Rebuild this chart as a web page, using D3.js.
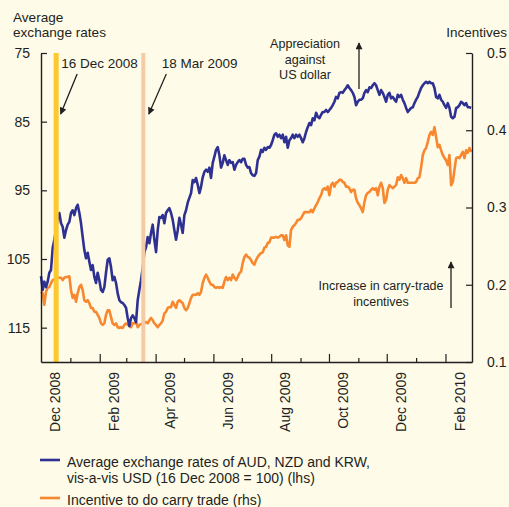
<!DOCTYPE html>
<html>
<head>
<meta charset="utf-8">
<script src="https://cdn.jsdelivr.net/npm/d3@7"></script>
<style>
	body{margin:0;background:#fefbe9;}
	svg{display:block;font-family:"Liberation Sans",Arial,Helvetica,sans-serif;fill:#231f20;}
</style>
</head>
<body>
<svg id="chart" width="509" height="507"></svg>
<script>
'use strict';

//Observation calendar: first reading and spacing (days) of the readings
var firstObs = '2008-12-01';
var obsStepDays = 1.76;

//Average exchange rates of AUD, NZD and KRW vs USD (16 Dec 2008 = 100), lhs
var fxIndex = [
	107.5,109.5,108.3,109.1,108.3,107.0,106.6,103.4,102.2,100.8,
	99.0,98.3,99.8,100.3,101.9,100.8,100.0,99.6,98.3,97.9,
	98.6,97.6,97.1,98.3,99.8,101.8,103.7,104.9,104.1,105.4,
	106.6,105.9,107.6,108.5,107.0,108.1,109.5,109.8,109.1,107.0,
	105.1,104.9,106.2,108.1,107.6,108.5,110.0,111.0,111.3,111.4,
	111.7,112.1,113.6,114.8,113.6,113.2,113.6,114.2,111.0,109.5,
	108.1,106.3,104.0,103.3,101.8,102.7,101.2,100.0,102.2,104.0,
	100.8,98.9,99.0,98.6,99.8,98.3,97.9,97.6,98.3,99.3,
	100.8,102.2,100.8,99.0,100.0,101.2,98.6,97.9,96.8,96.1,
	95.4,93.5,93.8,93.2,94.2,95.4,94.5,93.1,92.3,92.0,
	92.3,91.7,93.2,91.0,90.1,89.1,88.7,89.9,91.7,91.0,
	89.9,90.6,91.3,90.6,91.0,90.9,92.0,91.3,90.9,90.6,
	90.9,90.4,90.4,91.3,91.7,91.6,92.5,92.8,92.9,92.5,
	90.6,90.1,89.1,89.4,88.8,89.1,88.7,88.8,88.4,87.7,
	86.9,86.7,87.2,86.9,87.4,86.9,88.0,87.2,88.8,87.7,
	87.4,86.9,87.4,86.9,87.2,86.9,87.4,88.0,87.4,86.5,
	85.8,85.2,85.5,84.5,84.8,83.7,84.3,84.5,84.0,83.6,
	83.6,83.3,83.6,83.3,83.0,82.6,82.1,81.4,81.6,80.8,
	80.7,80.8,80.4,80.1,79.7,80.1,80.4,80.8,81.4,82.6,
	82.1,81.8,81.8,81.6,80.8,80.4,80.7,80.0,80.1,79.7,
	79.4,79.7,80.4,81.1,80.4,80.8,81.4,82.1,81.1,80.8,
	81.6,81.4,81.8,82.1,81.1,81.4,81.1,81.8,82.3,83.0,
	83.6,83.3,83.0,82.9,82.3,81.8,81.4,80.7,80.1,79.7,
	79.4,79.2,79.4,79.2,79.4,79.4,80.1,81.4,81.6,81.1,
	81.8,82.1,82.6,83.0,82.3,83.0,84.3,84.5,84.3,83.0,
	82.9,82.6,82.1,82.3,82.6,82.3,82.9,82.9,83.0
];

//Incentive to do carry trade, rhs
var carryIncentive = [
	0.191,0.189,0.174,0.191,0.196,0.197,0.202,0.206,0.207,0.209,
	0.209,0.209,0.209,0.206,0.209,0.210,0.210,0.211,0.193,0.183,
	0.187,0.178,0.189,0.197,0.200,0.193,0.180,0.178,0.180,0.176,
	0.170,0.170,0.165,0.165,0.161,0.157,0.150,0.148,0.150,0.161,
	0.167,0.167,0.158,0.150,0.148,0.150,0.145,0.144,0.145,0.144,
	0.148,0.150,0.148,0.150,0.145,0.150,0.150,0.152,0.145,0.148,
	0.149,0.150,0.150,0.152,0.150,0.154,0.157,0.154,0.150,0.148,
	0.145,0.148,0.150,0.154,0.163,0.165,0.170,0.171,0.171,0.178,
	0.174,0.170,0.178,0.180,0.178,0.176,0.170,0.167,0.170,0.176,
	0.183,0.187,0.187,0.187,0.189,0.187,0.191,0.202,0.209,0.213,
	0.209,0.204,0.200,0.200,0.197,0.196,0.197,0.196,0.197,0.196,
	0.204,0.210,0.206,0.209,0.206,0.213,0.209,0.206,0.210,0.215,
	0.217,0.228,0.236,0.239,0.236,0.235,0.232,0.228,0.226,0.232,
	0.236,0.239,0.241,0.242,0.248,0.249,0.254,0.255,0.261,0.261,
	0.261,0.262,0.261,0.262,0.264,0.264,0.258,0.264,0.251,0.249,
	0.271,0.275,0.277,0.280,0.284,0.284,0.286,0.290,0.294,0.294,
	0.294,0.294,0.297,0.294,0.299,0.303,0.307,0.312,0.316,0.323,
	0.325,0.323,0.327,0.316,0.329,0.332,0.327,0.332,0.333,0.336,
	0.336,0.333,0.332,0.327,0.327,0.325,0.320,0.323,0.323,0.312,
	0.306,0.303,0.299,0.294,0.307,0.316,0.319,0.320,0.323,0.325,
	0.323,0.325,0.316,0.327,0.332,0.325,0.306,0.310,0.323,0.329,
	0.327,0.325,0.327,0.329,0.339,0.336,0.342,0.338,0.332,0.338,
	0.332,0.332,0.332,0.332,0.332,0.333,0.338,0.339,0.352,0.368,
	0.374,0.377,0.385,0.394,0.398,0.394,0.404,0.391,0.378,0.381,
	0.374,0.368,0.364,0.361,0.355,0.368,0.329,0.333,0.349,0.364,
	0.365,0.364,0.368,0.372,0.364,0.374,0.371,0.377,0.372
];

var leftTicks = [75,85,95,105,115];
var rightTicks = [0.1,0.2,0.3,0.4,0.5];
var labelMonths = ['2008-12','2009-02','2009-04','2009-06','2009-08','2009-10','2009-12','2010-02'];
var monthLabels = ['Dec 2008','Feb 2009','Apr 2009','Jun 2009','Aug 2009','Oct 2009','Dec 2009','Feb 2010'];
var eventDates = ['2008-12-16','2009-03-18'];
var eventLabels = ['16 Dec 2008','18 Mar 2009'];
var legendLabels = [
	['Average exchange rates of AUD, NZD and KRW,','vis-a-vis USD (16 Dec 2008 = 100) (lhs)'],
	['Incentive to do carry trade (rhs)']
];

var blue = '#2e3192';
var orange = '#f7882f';
var ink = '#231f20';

var svg = d3.select('#chart');
var parseDay = d3.timeParse('%Y-%m-%d');
var parseMonth = d3.timeParse('%Y-%m');

//Scales
var x = d3.scaleTime()
	.domain([new Date(2008,11,1), new Date(2010,2,1)])
	.range([41,472]);
var yL = d3.scaleLinear().domain([75,120]).range([53,362]);
var yR = d3.scaleLinear().domain([0.1,0.5]).range([362,53]);

var start = parseDay(firstObs);
var obsDates = fxIndex.map(function(d,i){
	return d3.timeHour.offset(start, Math.round(i*obsStepDays*24));
});

//Arrow head
svg.append('defs').append('marker')
	.attr('id','head')
	.attr('viewBox','0 0 10 10')
	.attr('refX',9).attr('refY',5)
	.attr('markerUnits','userSpaceOnUse')
	.attr('markerWidth',9).attr('markerHeight',7)
	.attr('orient','auto')
	.append('path')
		.attr('d','M0,0L10,5L0,10z')
		.attr('fill',ink);

//Series lines
var fxLine = d3.line()
	.x(function(d,i){ return x(obsDates[i]); })
	.y(function(d){ return yL(d); });
var carryLine = d3.line()
	.x(function(d,i){ return x(obsDates[i]); })
	.y(function(d){ return yR(d); });

svg.append('path')
	.datum(carryIncentive)
	.attr('d',carryLine)
	.attr('fill','none')
	.attr('stroke',orange)
	.attr('stroke-width',2.6)
	.attr('stroke-linejoin','round');

svg.append('path')
	.datum(fxIndex)
	.attr('d',fxLine)
	.attr('fill','none')
	.attr('stroke',blue)
	.attr('stroke-width',2.6)
	.attr('stroke-linejoin','round');

//Event bars and their labels (label/arrow offsets differ per bar)
var barCol = ['#fdc72e','#f5cba7'];
var barW = [5,4];
var labelDx = [5,18.5];
var arrowDx = [[21,4.5],[23,5.5]];
eventDates.forEach(function(d,i){
	var xc = x(d3.timeDay.offset(parseDay(d),1));
	svg.append('rect')
		.attr('x',xc - barW[i]/2)
		.attr('y',yL.range()[0])
		.attr('width',barW[i])
		.attr('height',yL.range()[1]-yL.range()[0])
		.attr('fill',barCol[i]);
	svg.append('text')
		.attr('x',xc + labelDx[i])
		.attr('y',68)
		.attr('font-size','13.5px')
		.text(eventLabels[i]);
	svg.append('line')
		.attr('x1',xc + arrowDx[i][0]).attr('y1',74)
		.attr('x2',xc + arrowDx[i][1]).attr('y2',114)
		.attr('stroke',ink)
		.attr('stroke-width',1.3)
		.attr('marker-end','url(#head)');
});

//Left axis
var leftAxis = svg.append('g')
	.attr('transform','translate(41,0)')
	.call(d3.axisLeft(yL).tickValues(leftTicks).tickSizeInner(-6).tickSizeOuter(0).tickPadding(11));

//Right axis
var rightAxis = svg.append('g')
	.attr('transform','translate(472,0)')
	.call(d3.axisRight(yR).tickValues(rightTicks).tickFormat(d3.format('.1f')).tickSizeInner(-6).tickSizeOuter(0).tickPadding(15));

//Bottom axis: month ticks, longer on even months
var monthStarts = d3.timeMonth.range(new Date(2009,0,1), new Date(2010,2,1));
var bottomAxis = svg.append('g')
	.attr('transform','translate(0,362)')
	.call(d3.axisBottom(x).tickValues(monthStarts).tickFormat('').tickSizeInner(-4).tickSizeOuter(0));
bottomAxis.selectAll('.tick line')
	.attr('y2',function(d){ return d.getMonth() % 2 === 1 ? -8 : -4; });

[leftAxis,rightAxis,bottomAxis].forEach(function(g){
	g.select('.domain').attr('stroke',ink).attr('stroke-width',1.4);
	g.selectAll('.tick line').attr('stroke',ink).attr('stroke-width',1.2);
	g.selectAll('.tick text')
		.attr('fill',ink)
		.attr('font-size','14px')
		.attr('font-family','"Liberation Sans",Arial,sans-serif');
});

//Rotated month labels
labelMonths.forEach(function(m,i){
	var xm = x(d3.timeDay.offset(parseMonth(m),15));
	svg.append('text')
		.attr('transform','translate(' + xm + ',372) rotate(-90)')
		.attr('text-anchor','end')
		.attr('dy','0.36em')
		.attr('font-size','14px')
		.text(monthLabels[i]);
});

//Axis titles
svg.append('text').attr('x',13).attr('y',22).attr('font-size','13.6px').text('Average');
svg.append('text').attr('x',13).attr('y',37).attr('font-size','13.6px').text('exchange rates');
svg.append('text').attr('x',507).attr('y',37).attr('text-anchor','end').attr('font-size','13.5px').text('Incentives');

//Direction notes
var note1 = ['Appreciation','against','US dollar'];
note1.forEach(function(t,i){
	svg.append('text')
		.attr('x',305).attr('y',48 + i*15.5)
		.attr('text-anchor','middle')
		.attr('font-size','12.6px')
		.text(t);
});
svg.append('line')
	.attr('x1',359).attr('y1',89).attr('x2',359).attr('y2',43)
	.attr('stroke',ink).attr('stroke-width',1.3)
	.attr('marker-end','url(#head)');

var note2 = ['Increase in carry-trade','incentives'];
note2.forEach(function(t,i){
	svg.append('text')
		.attr('x',381).attr('y',290 + i*15.5)
		.attr('text-anchor','middle')
		.attr('font-size','12.5px')
		.text(t);
});
svg.append('line')
	.attr('x1',451).attr('y1',308).attr('x2',451).attr('y2',262)
	.attr('stroke',ink).attr('stroke-width',1.3)
	.attr('marker-end','url(#head)');

//Legend
var legendY = [460,498];
[blue,orange].forEach(function(col,i){
	svg.append('line')
		.attr('x1',40).attr('x2',60)
		.attr('y1',legendY[i]).attr('y2',legendY[i])
		.attr('stroke',col).attr('stroke-width',2.6);
	legendLabels[i].forEach(function(t,j){
		svg.append('text')
			.attr('x',67)
			.attr('y',legendY[i] + 7 + j*16)
			.attr('font-size','14px')
			.text(t);
	});
});
</script>
</body>
</html>
